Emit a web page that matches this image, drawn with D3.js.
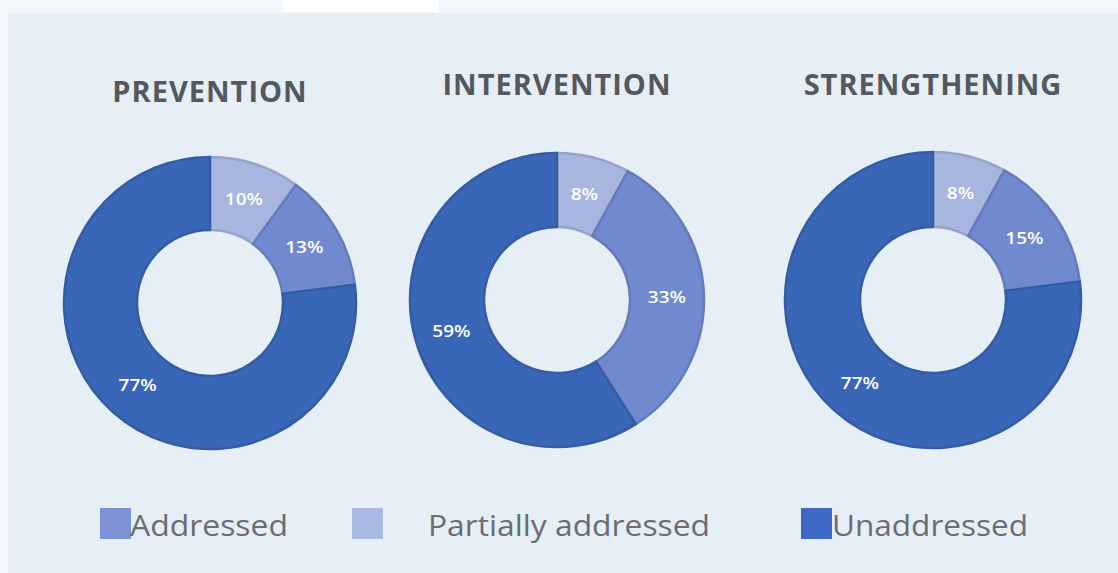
<!DOCTYPE html>
<html>
<head>
<meta charset="utf-8">
<script src="https://cdn.jsdelivr.net/npm/d3@7/dist/d3.min.js"></script>
<style>
  html, body { margin: 0; padding: 0; background: #f5f8fb; }
  svg { display: block; }
</style>
</head>
<body>
<svg id="chart" width="1118" height="573"></svg>
<script>
// Donut panels: share of actions per pillar, by status
const pillars = ["PREVENTION", "INTERVENTION", "STRENGTHENING"];
const statuses = ["Partially addressed", "Addressed", "Unaddressed"];
const partiallyAddressed = [10, 8, 8];
const addressed = [13, 33, 15];
const unaddressed = [77, 59, 77];

const W = 1118, H = 573;
const svg = d3.select("#chart");

// page strip and panel background
svg.append("rect").attr("x", 0).attr("y", 0).attr("width", W).attr("height", H).attr("fill", "#f4f7fa");
svg.append("rect").attr("x", 283).attr("y", 0).attr("width", 155).attr("height", 12).attr("fill", "#ffffff");
svg.append("rect").attr("x", 8).attr("y", 13).attr("width", W - 8).attr("height", H - 13).attr("fill", "#e6eef6");

const sliceColor = d3.scaleOrdinal()
  .domain(statuses)
  .range(["#a8b5df", "#7189cf", "#3a66b8"]);
const legendColor = d3.scaleOrdinal()
  .domain(statuses)
  .range(["#aab9e3", "#7b93d4", "#3d68c3"]);

// panel placement
const layout = {
  "PREVENTION":    { cx: 210, cy: 303, r: 146, titleY: 102 },
  "INTERVENTION":  { cx: 557, cy: 300, r: 147, titleY: 95 },
  "STRENGTHENING": { cx: 933, cy: 300, r: 148, titleY: 95 }
};
const innerR = 73;

const pie = d3.pie().sort(null).value(d => d.value);

pillars.forEach((p, i) => {
  const L = layout[p];
  const data = [
    { status: statuses[0], value: partiallyAddressed[i] },
    { status: statuses[1], value: addressed[i] },
    { status: statuses[2], value: unaddressed[i] }
  ];
  const arc = d3.arc().innerRadius(innerR).outerRadius(L.r);
  const g = svg.append("g").attr("transform", `translate(${L.cx},${L.cy})`);

  g.selectAll("path.slice")
    .data(pie(data))
    .join("path")
    .attr("class", "slice")
    .attr("d", arc)
    .attr("fill", d => sliceColor(d.data.status))
    .attr("stroke", d => d3.color(sliceColor(d.data.status)).darker(0.3))
    .attr("stroke-width", 2.5)
    .attr("stroke-linejoin", "round");

  g.selectAll("text.val")
    .data(pie(data))
    .join("text")
    .attr("class", "val")
    .attr("transform", d => `translate(${arc.centroid(d)}) scale(1.12,1)`)
    .attr("text-anchor", "middle")
    .attr("dy", "0.36em")
    .attr("fill", "#ffffff")
    .attr("font-family", "'Open Sans', sans-serif")
    .attr("font-weight", 600)
    .attr("font-size", 17)
    .text(d => d.data.value + "%");

  svg.append("text")
    .attr("x", L.cx)
    .attr("y", L.titleY)
    .attr("text-anchor", "middle")
    .attr("fill", "#55585c")
    .attr("font-family", "'Open Sans', sans-serif")
    .attr("font-weight", 700)
    .attr("font-size", 29)
    .attr("letter-spacing", 1)
    .text(p);
});

// legend
const legendItems = [
  { status: "Addressed", x: 100, textX: 130, textW: 158 },
  { status: "Partially addressed", x: 352, textX: 428, textW: 282 },
  { status: "Unaddressed", x: 801, textX: 832, textW: 196 }
];
const lg = svg.append("g");
legendItems.forEach(it => {
  lg.append("rect")
    .attr("x", it.x).attr("y", 508)
    .attr("width", 31).attr("height", 31)
    .attr("fill", legendColor(it.status));
  lg.append("text")
    .attr("x", it.textX).attr("y", 536)
    .attr("fill", "#6a6d71")
    .attr("font-family", "'Open Sans', sans-serif")
    .attr("font-size", 30)
    .attr("textLength", it.textW)
    .attr("lengthAdjust", "spacingAndGlyphs")
    .text(it.status);
});
</script>
</body>
</html>
